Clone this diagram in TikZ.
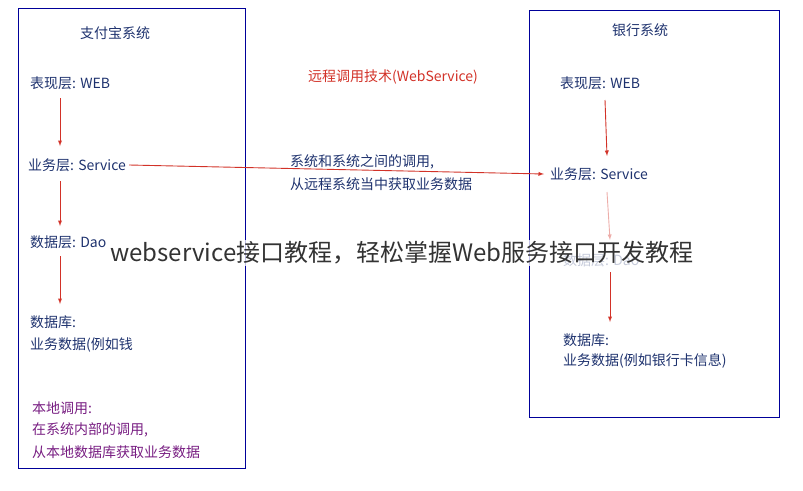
\documentclass[tikz,border=0pt]{standalone}
\usepackage{fontspec}
\setmainfont{Noto Sans CJK SC}
\usetikzlibrary{positioning}
\definecolor{txtblue}{RGB}{30,50,110}
\definecolor{arrred}{RGB}{210,50,40}
\definecolor{purp}{RGB}{120,30,130}
\tikzset{
  sysbox/.style={draw=blue!60!black, line width=1pt},
  label/.style={anchor=west, text=txtblue, font=\fontsize{14}{16}\selectfont, inner sep=0pt},
  flow/.style={->, >=latex, draw=arrred, line width=0.9pt},
}
\begin{document}
\begin{tikzpicture}[x=1pt,y=-1pt]
  \useasboundingbox (0,0) rectangle (803,490);

  % --- systems ---
  \draw[sysbox] (18,8) rectangle (245,468);
  \draw[sysbox] (529,10) rectangle (779,417);

  % --- left system ---
  \node[label, anchor=center] (alipay) at (115,33) {支付宝系统};
  \node[label] (lweb) at (30,83) {表现层: WEB};
  \node[label] (lsvc) at (28,165) {业务层: Service};
  \node[label] (ldao) at (30,242) {数据层: Dao};
  \node[label] (ldb) at (30,322) {数据库:};
  \node[label] (ldata) at (30,345) {业务数据(例如钱};
  \node[label, text=purp] (local1) at (32,408) {本地调用:};
  \node[label, text=purp] (local2) at (32,430) {在系统内部的调用,};
  \node[label, text=purp] (local3) at (32,452) {从本地数据库获取业务数据};

  % --- middle ---
  \node[label, anchor=center, text=arrred] (remote) at (393,77) {远程调用技术(WebService)};
  \node[label] (mid1) at (290,162) {系统和系统之间的调用,};
  \node[label] (mid2) at (290,184) {从远程系统当中获取业务数据};

  % --- right system ---
  \node[label, anchor=center] (bank) at (640,30) {银行系统};
  \node[label] (rweb) at (560,83) {表现层: WEB};
  \node[label] (rsvc) at (550,174) {业务层: Service};
  \node[label] (rdao) at (563,260) {数据层: Dao};
  \node[label] (rdb) at (563,340) {数据库:};
  \node[label] (rdata) at (563,361) {业务数据(例如银行卡信息)};

  % --- arrow ends ---
  \coordinate (l1) at (60,98);  \coordinate (l2) at (60,146);
  \coordinate (l3) at (60,181); \coordinate (l4) at (60,226);
  \coordinate (l5) at (60,256); \coordinate (l6) at (60,304);
  \coordinate (r1) at (605,100); \coordinate (r2) at (607,156);
  \coordinate (r3) at (607,192); \coordinate (r4) at (610,240);
  \coordinate (r5) at (610,272); \coordinate (r6) at (610,322);

  % --- arrows ---
  \draw[flow] (l1) -- (l2);
  \draw[flow] (l3) -- (l4);
  \draw[flow] (l5) -- (l6);
  \draw[flow] (r1) -- (r2);
  \draw[flow, draw=arrred!40] (r3) -- (r4);
  \draw[flow] (r5) -- (r6);
  \draw[flow] (lsvc.east) ++(3,0) -- ([xshift=-6pt]rsvc.west);

  % --- overlay caption ---
  \node[fill=white, fill opacity=0.75, text opacity=1, text=black!80,
        font=\fontsize{24}{28}\selectfont, inner sep=2pt] (caption) at (402,253)
        {webservice接口教程，轻松掌握Web服务接口开发教程};
\end{tikzpicture}
\end{document}
